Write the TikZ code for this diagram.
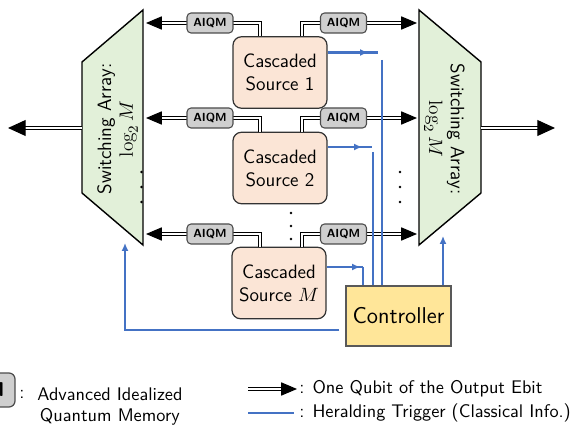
\documentclass[tikz,border=0pt]{standalone}
\usepackage{fontspec}
\usetikzlibrary{arrows.meta,calc}

\definecolor{srcfill}{HTML}{FBE5D6}
\definecolor{swfill}{HTML}{E2F0D9}
\definecolor{memfill}{HTML}{CFCFCF}
\definecolor{ctrlfill}{HTML}{FFE699}
\definecolor{trigblue}{HTML}{4472C4}

\tikzset{
  qubit/.style={draw=black, line width=0.6pt, double=white, double distance=1.4pt,
    -{Triangle[length=9pt,width=7.5pt]}},
  bigqubit/.style={qubit, -{Triangle[length=10pt,width=9pt]}},
  trig/.style={draw=trigblue, line width=1.2pt},
  trigthin/.style={draw=trigblue, line width=0.85pt},
  trigtip/.style={-{Latex[length=4.5pt,width=4pt]}},
  source/.style={draw=black!80, fill=srcfill, line width=0.7pt, rounded corners=0.17cm,
    minimum width=1.88cm, minimum height=1.43cm, align=center,
    font=\sffamily\fontsize{11}{13}\selectfont},
  memory/.style={draw=black!70, fill=memfill, line width=0.6pt, rounded corners=0.08cm,
    minimum width=0.92cm, minimum height=0.4cm, inner sep=0pt,
    font=\sffamily\bfseries\fontsize{6.7}{8}\selectfont},
  switch/.style={draw=black, fill=swfill, line width=0.8pt, line join=miter},
  swlabel/.style={align=center, font=\sffamily\fontsize{11}{12.5}\selectfont},
  controller/.style={draw=black!65, fill=ctrlfill, line width=0.8pt,
    minimum width=2.1cm, minimum height=1.2cm, font=\sffamily\fontsize{13}{15}\selectfont},
  legend/.style={font=\sffamily\fontsize{10.4}{12.4}\selectfont, inner sep=0pt},
  dotmark/.style={fill=black},
}

\begin{document}
\begin{tikzpicture}[x=0.02cm, y=-0.02cm]
\useasboundingbox (0,0) rectangle (579,432);

% switching arrays
\draw[switch] (82,62) -- (143,10) -- (143,245) -- (82,193) -- cycle;
\draw[switch] (481,62) -- (419,10) -- (419,245) -- (481,193) -- cycle;
\node[swlabel, rotate=90] (swLtext) at (117.5,129) {Switching Array:\\$\log_2 M$};
\node[swlabel, rotate=-90] (swRtext) at (444.5,129) {Switching Array:\\$\log_2 M$};

% switch edge points
\coordinate (L1) at (146,23);
\coordinate (L2) at (146,118);
\coordinate (L3) at (146,234);
\coordinate (R1) at (417,23);
\coordinate (R2) at (417,118);
\coordinate (R3) at (417,234);
\coordinate (Lout) at (82,128);
\coordinate (Lend) at (8,128);
\coordinate (Rout) at (481,128);
\coordinate (Rend) at (555,128);

% sources
\node[source] (s1) at (280,72.5) {Cascaded\\Source 1};
\node[source] (s2) at (280,168) {Cascaded\\Source 2};
\node[source] (sM) at (279,283) {Cascaded\\Source $M$};

% controller
\node[controller] (ctrl) at (398.5,316) {Controller};

% qubit paths from the sources to the switching arrays
\draw[qubit] ($(s1.north)+(-20,0)$) |- (L1);
\draw[qubit] ($(s1.north)+(22,0)$) |- (R1);
\draw[qubit] ($(s2.north)+(-20,0)$) |- (L2);
\draw[qubit] ($(s2.north)+(22,0)$) |- (R2);
\draw[qubit] ($(sM.north)+(-19,0)$) |- (L3);
\draw[qubit] ($(sM.north)+(23,0)$) |- (R3);

% outputs
\draw[bigqubit] (Lout) -- (Lend);
\draw[bigqubit] (Rout) -- (Rend);

% memories
\node[memory] (m1l) at (210,23) {AIQM};
\node[memory] (m1r) at (343.5,23) {AIQM};
\node[memory] (m2l) at (210,118) {AIQM};
\node[memory] (m2r) at (343.5,118) {AIQM};
\node[memory] (m3l) at (210,234) {AIQM};
\node[memory] (m3r) at (343.5,234) {AIQM};

% ellipsis dots
\foreach \y in {172,187,202} {
  \fill[dotmark] (141.5,\y) circle[radius=0.75pt];
  \fill[dotmark] (400,\y) circle[radius=0.75pt];
}
\foreach \y in {213,226,239} \fill[dotmark] (291,\y) circle[radius=0.75pt];

% heralding triggers: line out of each source with an arrowhead along it
\coordinate (s1out) at ($(s1.east)+(0,-20)$);
\coordinate (h1a) at (368,52.5);
\coordinate (h1b) at (378,52.5);
\coordinate (v1) at (382,60);
\draw[trig] (s1out) -- (h1b);
\draw[trig, trigtip] ($(h1a)+(-6,0)$) -- (h1a);
\draw[trigthin] (v1) -- (v1 |- ctrl.north);

\coordinate (s2out) at ($(s2.east)+(0,-21)$);
\coordinate (h2a) at (362,147);
\coordinate (h2b) at (372,147);
\coordinate (v2) at (373,152);
\draw[trig] (s2out) -- (h2b);
\draw[trig, trigtip] ($(h2a)+(-6,0)$) -- (h2a);
\draw[trigthin] (v2) -- (v2 |- ctrl.north);

\coordinate (s3out) at ($(sM.east)+(0,-16)$);
\coordinate (h3a) at (360,267);
\coordinate (v3) at (363,267);
\draw[trig] (s3out) -- (v3);
\draw[trig, trigtip] ($(h3a)+(-6,0)$) -- (h3a);
\draw[trigthin] (v3) -- (v3 |- ctrl.north);

\coordinate (swRin) at (443,236);
\draw[trigthin, trigtip] (swRin |- ctrl.north) -- (swRin);

\coordinate (ctrlout) at ($(ctrl.west)+(-6,14)$);
\coordinate (swLin) at (125,243);
\draw[trig, trigtip] (ctrlout) -| (swLin);

% legend
\node[draw=black!70, fill=memfill, line width=0.7pt, rounded corners=0.12cm,
  minimum width=1.56cm, minimum height=0.68cm, inner sep=0pt,
  font=\sffamily\bfseries\fontsize{11.4}{13}\selectfont] (legmem) at (-24,390) {AIQM};
\node[legend] (legcolon) at (22,394) {:};
\node[legend, anchor=north west, align=left] (legmemtext) at (37,387) {Advanced Idealized\\\hspace{1.5pt}Quantum Memory};

\coordinate (lq1) at (248,389);
\coordinate (lq2) at (297,389);
\draw[qubit] (lq1) -- (lq2);
\node[legend, anchor=west] (legq) at (299,389) {: One Qubit of the Output Ebit};

\coordinate (lt1) at (248,413);
\coordinate (lt2) at (294,413);
\draw[trig] (lt1) -- (lt2);
\node[legend, anchor=west] (legt) at (299,413) {: Heralding Trigger (Classical Info.)};
\end{tikzpicture}
\end{document}
